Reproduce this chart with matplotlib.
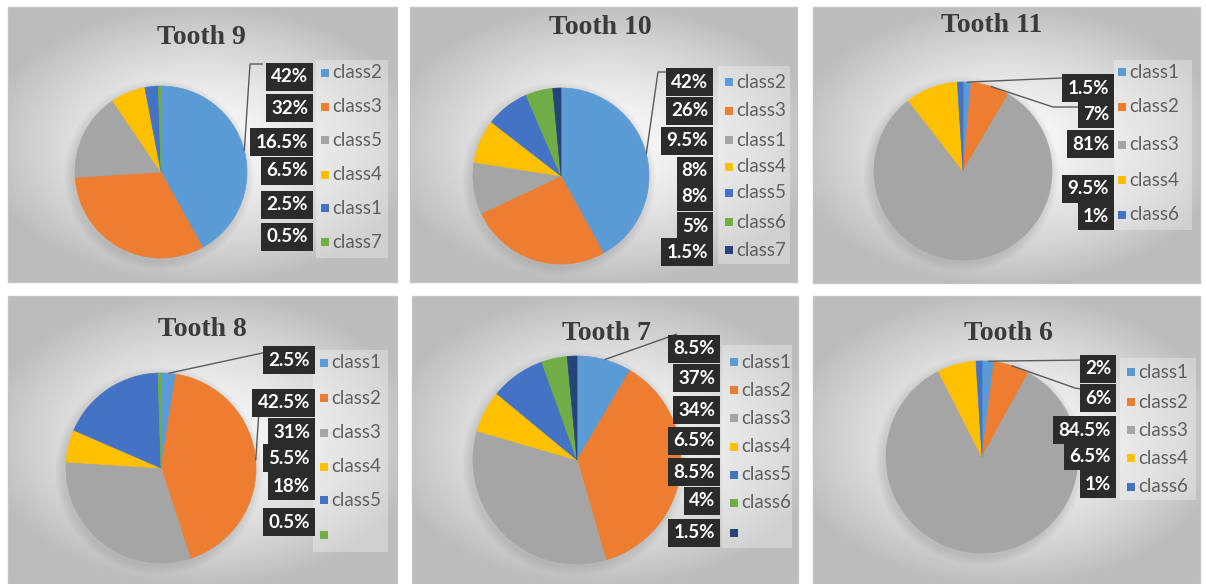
import numpy as np
import matplotlib.pyplot as plt
from matplotlib.patches import Rectangle, Circle

W, H = 1206, 584

# Excel default series colours (by series order)
colors = ['#5B9BD5', '#ED7D31', '#A5A5A5', '#FFC000', '#4472C4', '#70AD47', '#264478']

# data per tooth, in series order (clockwise from 12 o'clock)
t9_classes = ['class2', 'class3', 'class5', 'class4', 'class1', 'class7']
t9_values = [42, 32, 16.5, 6.5, 2.5, 0.5]

t10_classes = ['class2', 'class3', 'class1', 'class4', 'class5', 'class6', 'class7']
t10_values = [42, 26, 9.5, 8, 8, 5, 1.5]

t11_classes = ['class1', 'class2', 'class3', 'class4', 'class6']
t11_values = [1.5, 7, 81, 9.5, 1]

t8_classes = ['class1', 'class2', 'class3', 'class4', 'class5', '']
t8_values = [2.5, 42.5, 31, 5.5, 18, 0.5]

t7_classes = ['class1', 'class2', 'class3', 'class4', 'class5', 'class6', '']
t7_values = [8.5, 37, 34, 6.5, 8.5, 4, 1.5]

t6_classes = ['class1', 'class2', 'class3', 'class4', 'class6']
t6_values = [2, 6, 84.5, 6.5, 1]

# layout of each panel in pixels
panels = [
    dict(title='Tooth 9', classes=t9_classes, values=t9_values,
         box=(8, 7, 397, 282), title_xy=(201, 38), pie=(161, 172, 86),
         lab_x=313, lab_y=[77, 108, 142, 171, 205, 237],
         leg_x=321, leg_y=[73, 107, 140, 175, 208, 242], leg_bg=(316, 60, 388, 258),
         leaders=[(0, [(250, 64), (263, 64)])]),
    dict(title='Tooth 10', classes=t10_classes, values=t10_values,
         box=(410, 7, 797, 282), title_xy=(600, 27), pie=(561, 176, 88),
         lab_x=713, lab_y=[82, 111, 141, 171, 197, 226, 252],
         leg_x=725, leg_y=[82, 111, 140, 167, 193, 222, 250], leg_bg=(718, 66, 790, 264),
         leaders=[(0, [(658, 72), (668, 72)])]),
    dict(title='Tooth 11', classes=t11_classes, values=t11_values,
         box=(813, 7, 1200, 283), title_xy=(992, 25), pie=(963, 171, 89),
         lab_x=1114, lab_y=[88, 114, 144, 189, 216],
         leg_x=1118, leg_y=[72, 107, 145, 180, 215], leg_bg=(1114, 60, 1192, 230),
         leaders=[(0, [(1085, 77)]), (1, [(1053, 107), (1078, 107)])]),
    dict(title='Tooth 8', classes=t8_classes, values=t8_values,
         box=(8, 296, 397, 584), title_xy=(202, 330), pie=(161, 468, 95),
         lab_x=315, lab_y=[360, 403, 432, 458, 486, 522],
         leg_x=320, leg_y=[363, 398, 433, 467, 500, 535], leg_bg=(313, 350, 388, 552),
         leaders=[(0, [(267, 352)]), (1, [(260, 395), (270, 395)])]),
    dict(title='Tooth 7', classes=t7_classes, values=t7_values,
         box=(412, 296, 798, 584), title_xy=(606, 333), pie=(577, 460, 104),
         lab_x=720, lab_y=[349, 378, 410, 441, 472, 501, 533],
         leg_x=730, leg_y=[362, 390, 418, 447, 475, 503, 533], leg_bg=(722, 345, 792, 548),
         leaders=[(0, [(677, 334)])]),
    dict(title='Tooth 6', classes=t6_classes, values=t6_values,
         box=(813, 296, 1200, 584), title_xy=(1008, 334), pie=(982, 457, 96),
         lab_x=1116, lab_y=[369, 398, 430, 456, 484],
         leg_x=1127, leg_y=[372, 402, 430, 458, 487], leg_bg=(1120, 358, 1196, 500),
         leaders=[(0, [(1090, 360)]), (1, [(1075, 388), (1087, 390)])]),
]

fig = plt.figure(figsize=(W / 100, H / 100), dpi=100)
fig.patch.set_facecolor('white')

# background layer and overlay layer, both in pixel coords
bg = fig.add_axes([0, 0, 1, 1], zorder=0)
bg.set_xlim(0, W)
bg.set_ylim(H, 0)
bg.axis('off')

top = fig.add_axes([0, 0, 1, 1], zorder=5)
top.set_xlim(0, W)
top.set_ylim(H, 0)
top.axis('off')
top.patch.set_alpha(0)

for p in panels:
    x0, y0, x1, y1 = p['box']
    cx, cy, r = p['pie']

    # radial gradient panel background
    gw, gh = int(x1 - x0), int(y1 - y0)
    gx, gy = np.meshgrid(np.linspace(-1, 1, gw), np.linspace(-1, 1, gh))
    d = np.sqrt((gx * 1.0) ** 2 + (gy * 1.1) ** 2)
    shade = np.clip(0.98 - 0.2 * d ** 1.5, 0.74, 1)
    img = np.dstack([shade, shade, shade])
    bg.imshow(img, extent=(x0, x1, y1, y0), origin='upper', aspect='auto',
              interpolation='bilinear', zorder=1)
    bg.add_patch(Rectangle((x0, y0), x1 - x0, y1 - y0, fill=False,
                           ec='#c4c4c4', lw=1, zorder=2))

    # soft shadow behind the pie
    for k in range(6):
        bg.add_patch(Circle((cx - 2, cy + 3), r + 1 + k * 1.5, fc='#707070',
                            ec='none', alpha=0.035, zorder=3))

    # legend background
    lx0, ly0, lx1, ly1 = p['leg_bg']
    bg.add_patch(Rectangle((lx0, ly0), lx1 - lx0, ly1 - ly0, fc='white',
                           ec='none', alpha=0.3, zorder=3))

    # pie
    ax = fig.add_axes([(cx - r) / W, 1 - (cy + r) / H, 2 * r / W, 2 * r / H], zorder=2)
    n = len(p['values'])
    wedges, _ = ax.pie(p['values'], colors=colors[:n], startangle=90,
                       counterclock=False, radius=1)
    for w in wedges:
        w.set_edgecolor(w.get_facecolor())
        w.set_linewidth(0.5)
    ax.set_xlim(-1, 1)
    ax.set_ylim(-1, 1)
    ax.set_aspect('auto')
    ax.axis('off')

    # title
    top.text(p['title_xy'][0], p['title_xy'][1], p['title'], ha='center', va='center',
             fontsize=20, fontweight='bold', family=['Liberation Serif', 'DejaVu Serif'],
             color='#3b3b3b')

    # leader lines from slice midpoints on the rim
    for idx, pts in p['leaders']:
        w = wedges[idx]
        mid = np.deg2rad((w.theta1 + w.theta2) / 2)
        ax_px = cx + r * np.cos(mid)
        ay_px = cy - r * np.sin(mid)
        xs = [ax_px] + [q[0] for q in pts]
        ys = [ay_px] + [q[1] for q in pts]
        top.plot(xs, ys, color='#5a5a5a', lw=1.0, solid_capstyle='butt')

    # data labels (dark boxes)
    for v, yy in zip(p['values'], p['lab_y']):
        top.text(p['lab_x'] - 5, yy, f'{v:g}%', ha='right', va='center',
                 fontsize=13.5, fontweight='bold', color='white',
                 family=['Lato', 'DejaVu Sans'],
                 bbox=dict(boxstyle='square,pad=0.28', fc='#2b2b2b', ec='none'))

    # legend entries
    for i, (name, yy) in enumerate(zip(p['classes'], p['leg_y'])):
        top.add_patch(Rectangle((p['leg_x'], yy - 4), 8, 8, fc=colors[i], ec='none'))
        top.text(p['leg_x'] + 11, yy, name, ha='left', va='center', fontsize=13.5,
                 color='#5f5f5f', family=['Lato', 'DejaVu Sans'])

fig.savefig('out.png', dpi=100, facecolor='white')
